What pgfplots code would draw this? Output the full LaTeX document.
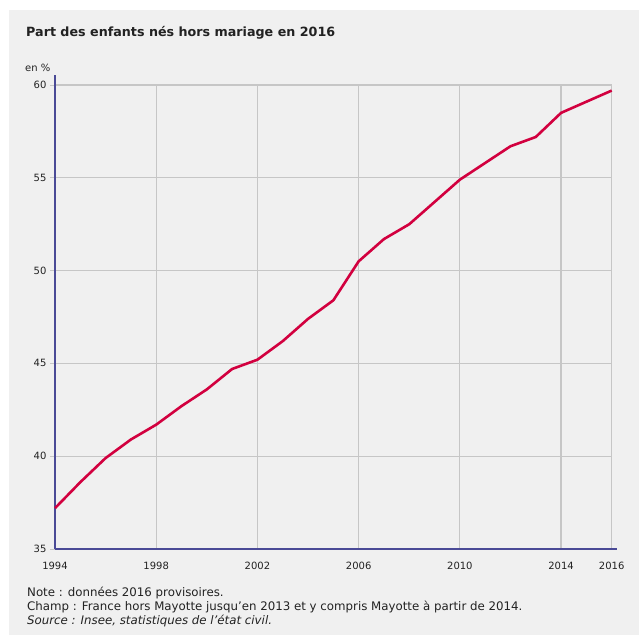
\documentclass[border=0pt]{standalone}
\usepackage{fontspec}
\setmainfont{DejaVu Sans}
\usepackage{pgfplots}
\pgfplotsset{compat=1.18}
\definecolor{bg}{HTML}{F0F0F0}
\definecolor{gridc}{HTML}{C6C6C6}
\definecolor{axc}{HTML}{4A4A96}
\definecolor{linec}{HTML}{D2003F}
\definecolor{txt}{HTML}{222222}
\begin{document}
\begin{tikzpicture}
\fill[white] (0pt,0pt) rectangle (639pt,-635pt);
\useasboundingbox (0pt,0pt) rectangle (639pt,-635pt);
\fill[bg] (9pt,-10pt) rectangle (639pt,-635pt);
\node[anchor=west, font=\bfseries\fontsize{12.7}{15}\selectfont, text=txt, inner sep=0] at (26pt,-33pt) {Part des enfants nés hors mariage en 2016};
\node[anchor=west, font=\fontsize{10}{12}\selectfont, text=txt, inner sep=0] at (25pt,-68pt) {en \%};
\begin{axis}[
  at={(55pt,-549pt)}, anchor=south west,
  scale only axis, width=556.7pt, height=464pt,
  xmin=1994, xmax=2016, ymin=35, ymax=60,
  axis x line*=bottom, axis y line*=left,
  axis line style={-, draw=axc, line width=1.6pt},
  x axis line style={shorten >=-5pt},
  y axis line style={shorten >=-10pt},
  xtick={1994,1998,2002,2006,2010,2014,2016},
  ytick={35,40,45,50,55,60},
  grid=major,
  grid style={draw=gridc, line width=1.2pt},
  xtick style={draw=none},
  ytick style={draw=gridc, line width=1pt},
  tick align=outside, major tick length=5pt,
  ticklabel style={font=\fontsize{10}{12}\selectfont, text=txt},
  xticklabel style={yshift=-5pt},
  /pgf/number format/assume math mode=true,
  /pgf/number format/1000 sep={},
  clip=false,
]
\addplot[linec, line width=2.6pt, line join=round] coordinates {
(1994,37.2) (1995,38.6) (1996,39.9) (1997,40.9) (1998,41.7) (1999,42.7)
(2000,43.6) (2001,44.7) (2002,45.2) (2003,46.2) (2004,47.4) (2005,48.4)
(2006,50.5) (2007,51.7) (2008,52.5) (2009,53.7) (2010,54.9) (2011,55.8)
(2012,56.7) (2013,57.2) (2014,58.5) (2015,59.1) (2016,59.7)
};
\end{axis}
\node[anchor=west, font=\fontsize{11.8}{14}\selectfont, text=txt, inner sep=0] at (27pt,-593pt) {Note : données 2016 provisoires.};
\node[anchor=west, font=\fontsize{11.8}{14}\selectfont, text=txt, inner sep=0] at (27pt,-607pt) {Champ : France hors Mayotte jusqu'en 2013 et y compris Mayotte à partir de 2014.};
\node[anchor=west, font=\itshape\fontsize{11.8}{14}\selectfont, text=txt, inner sep=0] at (27pt,-621pt) {Source : Insee, statistiques de l'état civil.};
\end{tikzpicture}
\end{document}
